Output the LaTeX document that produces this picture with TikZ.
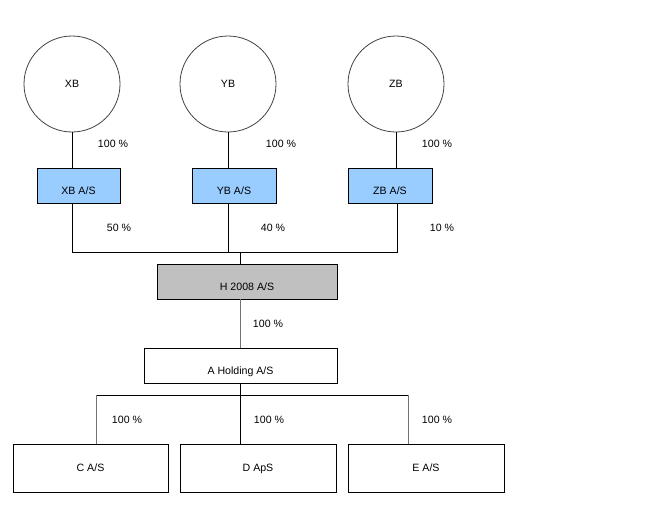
\documentclass[tikz,border=0pt]{standalone}
\usepackage{fontspec}
\setmainfont{Liberation Sans}
\definecolor{boxblue}{HTML}{99CCFF}
\definecolor{boxgray}{HTML}{C0C0C0}
\begin{document}
\begin{tikzpicture}[x=1pt,y=-1pt,
  every node/.style={font=\fontsize{10.6}{12}\selectfont},
  owner/.style={circle,draw=black!75,line width=0.8pt,minimum size=96pt,inner sep=0pt},
  company/.style={rectangle,draw,line width=0.8pt,minimum height=35pt,inner sep=0pt,text height=17pt,text depth=0pt},
  subsid/.style={rectangle,draw,line width=0.8pt,minimum height=48pt,inner sep=0pt,text height=7pt,text depth=0pt},
  pct/.style={inner sep=1pt},
  conn/.style={line width=0.8pt},
  gconn/.style={line width=0.8pt,draw=black!55}]
\useasboundingbox (0,0) rectangle (645,517);
% owners
\node[owner] (xb) at (72,84) {XB};
\node[owner] (yb) at (228,84) {YB};
\node[owner] (zb) at (396,84) {ZB};
% first-level companies
\node[company,fill=boxblue,minimum width=83pt] (xbas) at (78.5,185.5) {XB A/S};
\node[company,fill=boxblue,minimum width=84pt] (ybas) at (234,185.5) {YB A/S};
\node[company,fill=boxblue,minimum width=84pt] (zbas) at (390,185.5) {ZB A/S};
\node[company,fill=boxgray,minimum width=180pt] (h) at (247,281.5) {H 2008 A/S};
\node[company,minimum width=193pt] (ah) at (240.5,365.5) {A Holding A/S};
% subsidiaries
\node[subsid,minimum width=155pt] (cas) at (90.5,468) {C A/S};
\node[subsid,minimum width=156pt] (das) at (258,468) {D ApS};
\node[subsid,minimum width=156pt] (eas) at (426,468) {E A/S};
% bus coordinates
\coordinate (topbus) at (240,252);
\coordinate (xcol) at (72,252);
\coordinate (zcol) at (397,252);
\coordinate (botbus) at (240.5,395);
\coordinate (ccol) at (96,395);
\coordinate (ecol) at (408,395);
% connectors
\draw[conn] (xb.south) -- (xb.south |- xbas.north);
\draw[conn] (yb.south) -- (yb.south |- ybas.north);
\draw[conn] (zb.south) -- (zb.south |- zbas.north);
\draw[conn] (xcol |- xbas.south) -- (xcol) -- (zcol) -- (zcol |- zbas.south);
\draw[conn] (yb |- ybas.south) -- (yb |- topbus);
\draw[conn] (topbus) -- (topbus |- h.north);
\draw[gconn] (ah.north) -- (ah.north |- h.south);
\draw[conn] (ah.south) -- (botbus);
\draw[conn] (ccol) -- (ecol);
\draw[gconn] (ccol) -- (ccol |- cas.north);
\draw[conn] (botbus) -- (botbus |- das.north);
\draw[gconn] (ecol) -- (ecol |- eas.north);
% percentages
\node[pct] (p1) at (113,144) {100 \%};
\node[pct] (p2) at (281,144) {100 \%};
\node[pct] (p3) at (437,144) {100 \%};
\node[pct] (p4) at (119,228) {50 \%};
\node[pct] (p5) at (273,228) {40 \%};
\node[pct] (p6) at (442,228) {10 \%};
\node[pct] (p7) at (268,324) {100 \%};
\node[pct] (p8) at (127,420) {100 \%};
\node[pct] (p9) at (269,420) {100 \%};
\node[pct] (p10) at (437,420) {100 \%};
\end{tikzpicture}
\end{document}
